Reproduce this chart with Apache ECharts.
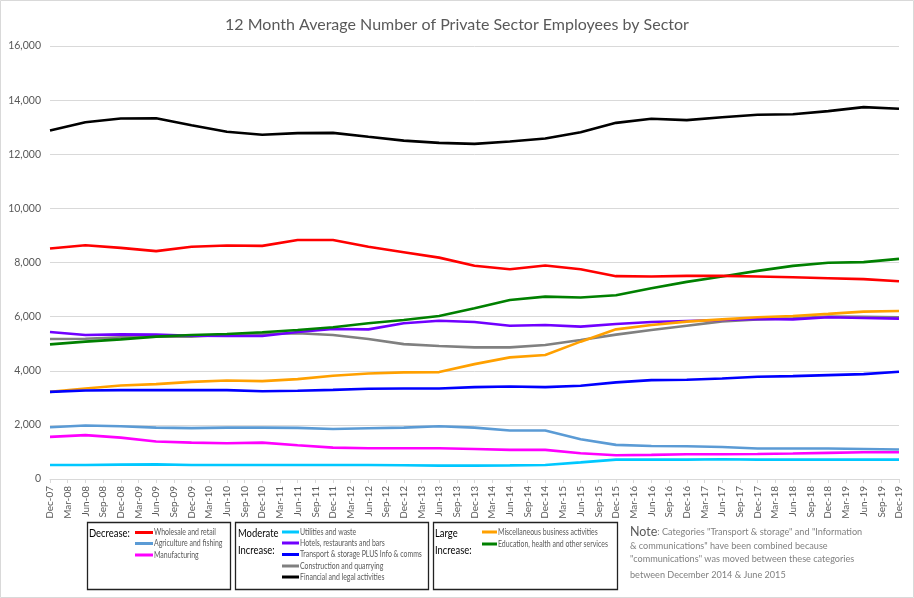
<!DOCTYPE html>
<html>
<head>
<meta charset="utf-8">
<title>12 Month Average Number of Private Sector Employees by Sector</title>
<script src="https://cdn.jsdelivr.net/npm/echarts@6/dist/echarts.min.js"></script>
<style>
  html, body { margin: 0; padding: 0; background: #fff; }
  #main { width: 914px; height: 598px; }
</style>
</head>
<body>
<div id="main"></div>
<script type="text/javascript">
// quarterly tick labels on the x axis
var categories = [
    'Dec-07','Mar-08','Jun-08','Sep-08','Dec-08','Mar-09','Jun-09','Sep-09','Dec-09','Mar-10',
    'Jun-10','Sep-10','Dec-10','Mar-11','Jun-11','Sep-11','Dec-11','Mar-12','Jun-12','Sep-12',
    'Dec-12','Mar-13','Jun-13','Sep-13','Dec-13','Mar-14','Jun-14','Sep-14','Dec-14','Mar-15',
    'Jun-15','Sep-15','Dec-15','Mar-16','Jun-16','Sep-16','Dec-16','Mar-17','Jun-17','Sep-17',
    'Dec-17','Mar-18','Jun-18','Sep-18','Dec-18','Mar-19','Jun-19','Sep-19','Dec-19'
];

// values are half-yearly: Dec-07, Jun-08, Dec-08 ... Dec-19
var wholesale     = [8520, 8640, 8540, 8420, 8580, 8630, 8615, 8830, 8830, 8580, 8380, 8180, 7880, 7750, 7890, 7750, 7495, 7485, 7505, 7505, 7480, 7455, 7420, 7385, 7310];
var agriculture   = [1915, 1975, 1950, 1900, 1880, 1900, 1900, 1890, 1850, 1875, 1900, 1950, 1900, 1790, 1790, 1470, 1260, 1220, 1210, 1185, 1125, 1125, 1125, 1110, 1090];
var manufacturing = [1555, 1620, 1530, 1385, 1345, 1320, 1345, 1245, 1160, 1135, 1135, 1135, 1110, 1075, 1075, 950, 875, 890, 915, 915, 925, 940, 965, 990, 990];
var utilities     = [520, 520, 530, 540, 520, 520, 520, 520, 520, 520, 510, 495, 495, 505, 520, 615, 715, 715, 715, 730, 715, 715, 715, 715, 715];
var hotels        = [5430, 5320, 5345, 5335, 5295, 5285, 5285, 5430, 5545, 5530, 5755, 5850, 5800, 5665, 5690, 5630, 5730, 5800, 5840, 5875, 5915, 5900, 5975, 5950, 5925];
var transport     = [3220, 3270, 3285, 3285, 3285, 3285, 3245, 3260, 3295, 3335, 3345, 3345, 3395, 3420, 3395, 3445, 3570, 3655, 3665, 3715, 3780, 3800, 3840, 3875, 3965];
var construction  = [5175, 5185, 5235, 5260, 5260, 5345, 5360, 5385, 5320, 5175, 4985, 4915, 4865, 4865, 4950, 5135, 5335, 5505, 5665, 5825, 5900, 5940, 6000, 5990, 5975];
var financial     = [12880, 13180, 13320, 13330, 13075, 12830, 12720, 12780, 12790, 12645, 12505, 12420, 12385, 12470, 12580, 12815, 13160, 13310, 13260, 13370, 13460, 13480, 13595, 13740, 13680];
var misc          = [3220, 3345, 3455, 3505, 3590, 3640, 3615, 3690, 3815, 3900, 3940, 3950, 4245, 4495, 4580, 5075, 5530, 5690, 5815, 5900, 5975, 6025, 6100, 6185, 6210];
var education     = [4975, 5075, 5160, 5260, 5320, 5360, 5420, 5505, 5605, 5755, 5875, 6025, 6310, 6615, 6740, 6705, 6790, 7050, 7285, 7480, 7690, 7875, 7990, 8015, 8135];

var seriesNames = {
    wholesale: 'Wholesale and retail',
    agriculture: 'Agriculture and fishing',
    manufacturing: 'Manufacturing',
    utilities: 'Utilities and waste',
    hotels: 'Hotels, restaurants and bars',
    transport: 'Transport & storage PLUS Info & comms',
    construction: 'Construction and quarrying',
    financial: 'Financial and legal activities',
    misc: 'Miscellaneous business activities',
    education: 'Education, health and other services'
};

var colors = {
    wholesale: '#ff0000',
    agriculture: '#5b9bd5',
    manufacturing: '#ff00ff',
    utilities: '#00c8ff',
    hotels: '#7000ff',
    transport: '#0000ff',
    construction: '#808080',
    financial: '#000000',
    misc: '#ffa000',
    education: '#008000'
};

// put half-yearly values on every second quarter tick
function onQuarters(vals) {
    var out = categories.map(function () { return null; });
    vals.forEach(function (v, i) { out[i * 2] = v; });
    return out;
}

function line(key, vals) {
    return {
        name: seriesNames[key],
        type: 'line',
        data: onQuarters(vals),
        connectNulls: true,
        symbol: 'none',
        lineStyle: { color: colors[key], width: 2.6 },
        itemStyle: { color: colors[key] }
    };
}

var txt = '#595959';
var mainFont = "Lato, 'Noto Sans', sans-serif";

// text squeezed sideways a bit, the original uses a narrow font
function label(x, y, text, size, color, sx, rich) {
    var style = { x: 0, y: 0, text: text, fill: color, verticalAlign: 'middle',
                  font: size + 'px ' + mainFont };
    if (rich) style.rich = rich;
    return { type: 'group', x: x, y: y, scaleX: sx, silent: true,
             children: [{ type: 'text', style: style }] };
}

// legend drawn by hand in three framed boxes
function legendEntries(keys, x1, x2, ys) {
    var out = [];
    keys.forEach(function (k, i) {
        out.push({ type: 'line', silent: true,
                   shape: { x1: x1, y1: ys[i], x2: x2, y2: ys[i] },
                   style: { stroke: colors[k], lineWidth: 3 } });
        out.push(label(x2 + 1, ys[i], seriesNames[k], 9, txt, 0.77));
    });
    return out;
}

function frame(x, w) {
    return { type: 'rect', silent: true, shape: { x: x + 0.5, y: 522.5, width: w, height: 67 },
             style: { fill: 'none', stroke: '#222', lineWidth: 1.3 } };
}

var graphics = [
    { type: 'rect', silent: true, shape: { x: 0.5, y: 0.5, width: 913, height: 597 },
      style: { fill: 'none', stroke: '#d9d9d9', lineWidth: 1 } },
    frame(87, 143), frame(235, 193), frame(433, 184),
    label(89, 533, 'Decrease:', 11.5, '#000', 0.82),
    label(238, 533, 'Moderate', 11.5, '#000', 0.82),
    label(238, 550, 'Increase:', 11.5, '#000', 0.82),
    label(435, 533, 'Large', 11.5, '#000', 0.82),
    label(435, 550, 'Increase:', 11.5, '#000', 0.82),
    label(630, 532, '{n|Note}{t|: Categories "Transport & storage" and "Information}', 9.5, '#808080', 0.96, {
        n: { fontSize: 13, fontFamily: mainFont, fill: '#595959' },
        t: { fontSize: 9.5, fontFamily: mainFont, fill: '#808080' }
    }),
    label(630, 546, '& communications" have been combined because', 9.5, '#808080', 0.96),
    label(630, 559, '"communications" was moved between these categories', 9.5, '#808080', 0.96),
    label(630, 575, 'between December 2014 & June 2015', 9.5, '#808080', 0.96)
].concat(
    legendEntries(['wholesale', 'agriculture', 'manufacturing'], 135, 153, [532.5, 543.5, 555]),
    legendEntries(['utilities', 'hotels', 'transport', 'construction', 'financial'], 282, 299, [532, 543, 554.5, 566, 577]),
    legendEntries(['misc', 'education'], 482, 497, [532, 544])
);

var myChart = echarts.init(document.getElementById('main'));

var option = {
    backgroundColor: '#fff',
    animation: false,
    textStyle: { fontFamily: mainFont },
    title: {
        text: '12 Month Average Number of Private Sector Employees by Sector',
        left: 'center',
        top: 12,
        textStyle: { color: txt, fontSize: 16, fontWeight: 'normal', fontFamily: mainFont }
    },
    grid: { left: 50, right: 15, top: 46, bottom: 119 },
    xAxis: {
        type: 'category',
        data: categories,
        boundaryGap: false,
        axisLine: { lineStyle: { color: '#d9d9d9' } },
        axisTick: { show: true, length: 4, interval: 0, lineStyle: { color: '#d9d9d9' } },
        axisLabel: { interval: 0, rotate: 90, color: txt, fontSize: 10, margin: 7, fontFamily: mainFont }
    },
    yAxis: {
        type: 'value',
        min: 0,
        max: 16000,
        interval: 2000,
        axisLine: { show: false },
        axisTick: { show: false },
        splitLine: { lineStyle: { color: '#d9d9d9', width: 1 } },
        axisLabel: {
            color: txt, fontSize: 10.5, margin: 9, fontFamily: mainFont,
            formatter: function (v) { return v.toLocaleString('en-US'); }
        }
    },
    series: [
        line('construction', construction),
        line('hotels', hotels),
        line('misc', misc),
        line('education', education),
        line('transport', transport),
        line('utilities', utilities),
        line('agriculture', agriculture),
        line('manufacturing', manufacturing),
        line('wholesale', wholesale),
        line('financial', financial)
    ],
    graphic: graphics
};

myChart.setOption(option);
</script>
</body>
</html>
